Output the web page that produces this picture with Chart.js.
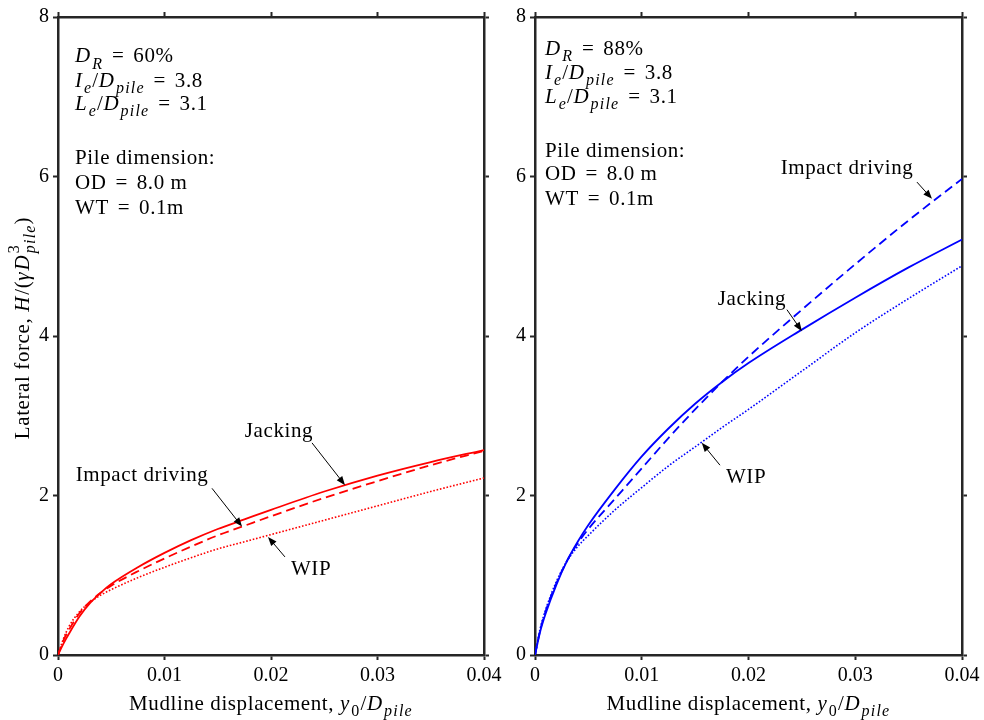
<!DOCTYPE html>
<html>
<head>
<meta charset="utf-8">
<script src="https://cdn.jsdelivr.net/npm/chart.js@4.4.0/dist/chart.umd.min.js"></script>
<style>
  html, body { margin: 0; padding: 0; background: #fff; }
  canvas { position: absolute; top: 0; }
</style>
</head>
<body>
<canvas id="left" width="520" height="720" style="left:0"></canvas>
<canvas id="right" width="492" height="720" style="left:492px"></canvas>
<script>
// mudline displacement y0/Dpile
const displacement = [0, 0.0005, 0.001, 0.002, 0.003, 0.004, 0.005, 0.0075, 0.01, 0.0125, 0.015, 0.0175, 0.02, 0.025, 0.03, 0.035, 0.04];

// DR = 60 %
const jacking60 = [0, 0.14, 0.26, 0.48, 0.65, 0.78, 0.89, 1.10, 1.28, 1.44, 1.58, 1.70, 1.82, 2.05, 2.25, 2.42, 2.57];
const impact60  = [0, 0.18, 0.31, 0.52, 0.67, 0.78, 0.87, 1.05, 1.21, 1.36, 1.50, 1.62, 1.74, 1.97, 2.18, 2.38, 2.56];
const wip60     = [0, 0.20, 0.35, 0.54, 0.66, 0.75, 0.82, 0.97, 1.10, 1.22, 1.33, 1.42, 1.51, 1.69, 1.87, 2.05, 2.22];

// DR = 88 %
const jacking88 = [0, 0.30, 0.52, 0.88, 1.18, 1.42, 1.63, 2.08, 2.49, 2.84, 3.15, 3.42, 3.66, 4.08, 4.48, 4.86, 5.21];
const impact88  = [0, 0.32, 0.55, 0.90, 1.18, 1.40, 1.58, 1.96, 2.34, 2.72, 3.08, 3.42, 3.74, 4.33, 4.90, 5.45, 5.97];
const wip88     = [0, 0.34, 0.57, 0.92, 1.18, 1.36, 1.50, 1.82, 2.10, 2.37, 2.61, 2.85, 3.08, 3.56, 4.04, 4.47, 4.88];

const xTicks = [0, 0.01, 0.02, 0.03, 0.04];
const yTicks = [0, 2, 4, 6, 8];

const SERIF = '"Liberation Serif", "DejaVu Serif", serif';
const AXIS = "#262626";
const FS = 21;      // annotation text
const TICK_FS = 20; // tick labels

// kinds: n normal, op spaced operator, i italic, sub / isub subscript, stack sup over sub
function styleFor(ctx, kind, size) {
    const small = kind === "sub" || kind === "isub" || kind === "stack";
    const it = kind === "i" || kind === "isub" || kind === "stack";
    ctx.font = (it ? "italic " : "") + Math.round(small ? size * 0.75 : size) + "px " + SERIF;
    ctx.letterSpacing = small ? "1.2px" : (it ? "2px" : "0.6px");
}

function runWidth(ctx, t, k, size) {
    if (k === "stack") {
        styleFor(ctx, "sub", size);
        const a = ctx.measureText(t[0]).width;
        styleFor(ctx, k, size);
        return Math.max(a, ctx.measureText(t[1]).width);
    }
    styleFor(ctx, k, size);
    return ctx.measureText(t).width + (k === "op" ? 6 : 0);
}

// draw a line of mixed text, y is the vertical centre
function drawRuns(ctx, runs, x, y, size, align) {
    let w = 0;
    runs.forEach(([t, k]) => { w += runWidth(ctx, t, k, size); });
    let cx = align === "center" ? x - w / 2 : x;
    const base = y + size * 0.33;
    ctx.textAlign = "left";
    ctx.textBaseline = "alphabetic";
    ctx.fillStyle = "#000";
    runs.forEach(([t, k]) => {
        const wd = runWidth(ctx, t, k, size);
        if (k === "stack") {
            styleFor(ctx, "sub", size);
            ctx.fillText(t[0], cx, base - size * 0.45);
            styleFor(ctx, k, size);
            ctx.fillText(t[1], cx, base + size * 0.3);
        } else {
            styleFor(ctx, k, size);
            const dy = (k === "sub" || k === "isub") ? size * 0.3 : 0;
            ctx.fillText(t, cx + (k === "op" ? 3 : 0), base + dy);
        }
        cx += wd;
    });
    ctx.letterSpacing = "0px";
}

function drawArrow(ctx, x1, y1, x2, y2) {
    const a = Math.atan2(y2 - y1, x2 - x1);
    const len = 9, half = 3.5;
    ctx.strokeStyle = "#000";
    ctx.lineWidth = 1;
    ctx.beginPath();
    ctx.moveTo(x1, y1);
    ctx.lineTo(x2 - Math.cos(a) * len * 0.8, y2 - Math.sin(a) * len * 0.8);
    ctx.stroke();
    ctx.fillStyle = "#000";
    ctx.beginPath();
    ctx.moveTo(x2, y2);
    ctx.lineTo(x2 - Math.cos(a) * len + Math.sin(a) * half, y2 - Math.sin(a) * len - Math.cos(a) * half);
    ctx.lineTo(x2 - Math.cos(a) * len - Math.sin(a) * half, y2 - Math.sin(a) * len + Math.cos(a) * half);
    ctx.closePath();
    ctx.fill();
}

function makeNotes(notes) {
    return {
        id: "notes",
        afterDraw(chart) {
            const ctx = chart.ctx;
            const xs = chart.scales.x, ys = chart.scales.y;
            const area = chart.chartArea;
            ctx.save();
            notes.texts.forEach(n => {
                drawRuns(ctx, n.runs, xs.getPixelForValue(n.x), ys.getPixelForValue(n.y), FS, n.align || "left");
            });
            notes.arrows.forEach(a => {
                drawArrow(ctx, xs.getPixelForValue(a[0]), ys.getPixelForValue(a[1]),
                    xs.getPixelForValue(a[2]), ys.getPixelForValue(a[3]));
            });
            // x axis title
            drawRuns(ctx, [["Mudline displacement, ", "n"], ["y", "i"], ["0", "sub"], ["/", "n"], ["D", "i"], ["pile", "isub"]],
                (area.left + area.right) / 2, 703, FS, "center");
            if (notes.yTitle) {
                ctx.translate(22, 328);
                ctx.rotate(-Math.PI / 2);
                drawRuns(ctx, [["Lateral force, ", "n"], ["H", "i"], ["/(", "n"], ["γ", "i"], ["D", "i"], [["3", "pile"], "stack"], [")", "n"]],
                    0, 0, FS, "center");
            }
            ctx.restore();
        }
    };
}

function series(ys, color, dash, width) {
    return {
        data: displacement.map((x, i) => ({ x: x, y: ys[i] })),
        borderColor: color,
        borderWidth: width,
        borderDash: dash,
        borderCapStyle: "butt",
        pointRadius: 0,
        fill: false,
        cubicInterpolationMode: "monotone"
    };
}

function axis(pos, labels, ticks, min, max, fitSize) {
    const horizontal = pos === "bottom" || pos === "top";
    return {
        type: "linear",
        position: pos,
        min: min,
        max: max,
        afterBuildTicks: (s) => { s.ticks = ticks.map(v => ({ value: v })); },
        afterFit: (s) => {
            if (horizontal) { s.height = fitSize; s.paddingLeft = 0; s.paddingRight = 0; }
            else { s.width = fitSize; s.paddingTop = 0; s.paddingBottom = 0; }
        },
        border: { display: true, width: 2.5, color: AXIS },
        grid: { drawOnChartArea: false, drawTicks: true, tickLength: 5, tickWidth: 2, tickColor: AXIS, color: AXIS },
        ticks: {
            display: labels,
            color: "#000",
            padding: 4,
            font: { family: SERIF, size: TICK_FS },
            callback: (v) => (v === 0 ? "0" : (horizontal ? v.toFixed(2) : String(v)))
        }
    };
}

function drawPanel(id, data, yLeft, yRight, notes) {
    new Chart(document.getElementById(id), {
        type: "line",
        data: {
            datasets: [
                series(data[0], data[3], [], 1.8),
                series(data[1], data[3], [9, 5], 1.8),
                series(data[2], data[3], [1.6, 1.8], 1.6)
            ]
        },
        options: {
            responsive: false,
            devicePixelRatio: 1,
            animation: false,
            layout: { padding: 0 },
            plugins: { legend: { display: false }, tooltip: { enabled: false } },
            scales: {
                x: axis("bottom", true, xTicks, 0, 0.04, 65),
                x2: axis("top", false, xTicks, 0, 0.04, 17),
                y: axis("left", true, yTicks, 0, 8, yLeft),
                y2: axis("right", false, yTicks, 0, 8, yRight)
            }
        },
        plugins: [makeNotes(notes)]
    });
}

const dRuns = (v) => [["D", "i"], ["R", "isub"], [" = ", "op"], [v, "n"]];
const ratioRuns = (s, v) => [[s, "i"], ["e", "isub"], ["/", "n"], ["D", "i"], ["pile", "isub"], [" = ", "op"], [v, "n"]];

drawPanel("left", [jacking60, impact60, wip60, "#ff0000"], 58, 36, {
    yTitle: true,
    texts: [
        { x: 0.0016, y: 7.52, runs: dRuns("60%") },
        { x: 0.0016, y: 7.21, runs: ratioRuns("I", "3.8") },
        { x: 0.0016, y: 6.92, runs: ratioRuns("L", "3.1") },
        { x: 0.0016, y: 6.24, runs: [["Pile dimension:", "n"]] },
        { x: 0.0016, y: 5.93, runs: [["OD", "n"], [" = ", "op"], ["8.0 m", "n"]] },
        { x: 0.0016, y: 5.62, runs: [["WT", "n"], [" = ", "op"], ["0.1m", "n"]] },
        { x: 0.02075, y: 2.82, runs: [["Jacking", "n"]], align: "center" },
        { x: 0.00789, y: 2.27, runs: [["Impact driving", "n"]], align: "center" },
        { x: 0.02376, y: 1.09, runs: [["WIP", "n"]], align: "center" }
    ],
    arrows: [
        [0.02385, 2.66, 0.02695, 2.13],
        [0.01446, 2.09, 0.01728, 1.61],
        [0.02131, 1.23, 0.01972, 1.48]
    ]
});

drawPanel("right", [jacking88, impact88, wip88, "#0000ff"], 43, 22, {
    yTitle: false,
    texts: [
        { x: 0.00094, y: 7.61, runs: dRuns("88%") },
        { x: 0.00094, y: 7.31, runs: ratioRuns("I", "3.8") },
        { x: 0.00094, y: 7.01, runs: ratioRuns("L", "3.1") },
        { x: 0.00094, y: 6.33, runs: [["Pile dimension:", "n"]] },
        { x: 0.00094, y: 6.04, runs: [["OD", "n"], [" = ", "op"], ["8.0 m", "n"]] },
        { x: 0.00094, y: 5.73, runs: [["WT", "n"], [" = ", "op"], ["0.1m", "n"]] },
        { x: 0.02923, y: 6.12, runs: [["Impact driving", "n"]], align: "center" },
        { x: 0.02033, y: 4.48, runs: [["Jacking", "n"]], align: "center" },
        { x: 0.01977, y: 2.24, runs: [["WIP", "n"]], align: "center" }
    ],
    arrows: [
        [0.03578, 5.93, 0.03719, 5.72],
        [0.0236, 4.33, 0.0250, 4.06],
        [0.01733, 2.38, 0.01562, 2.66]
    ]
});
</script>
</body>
</html>
